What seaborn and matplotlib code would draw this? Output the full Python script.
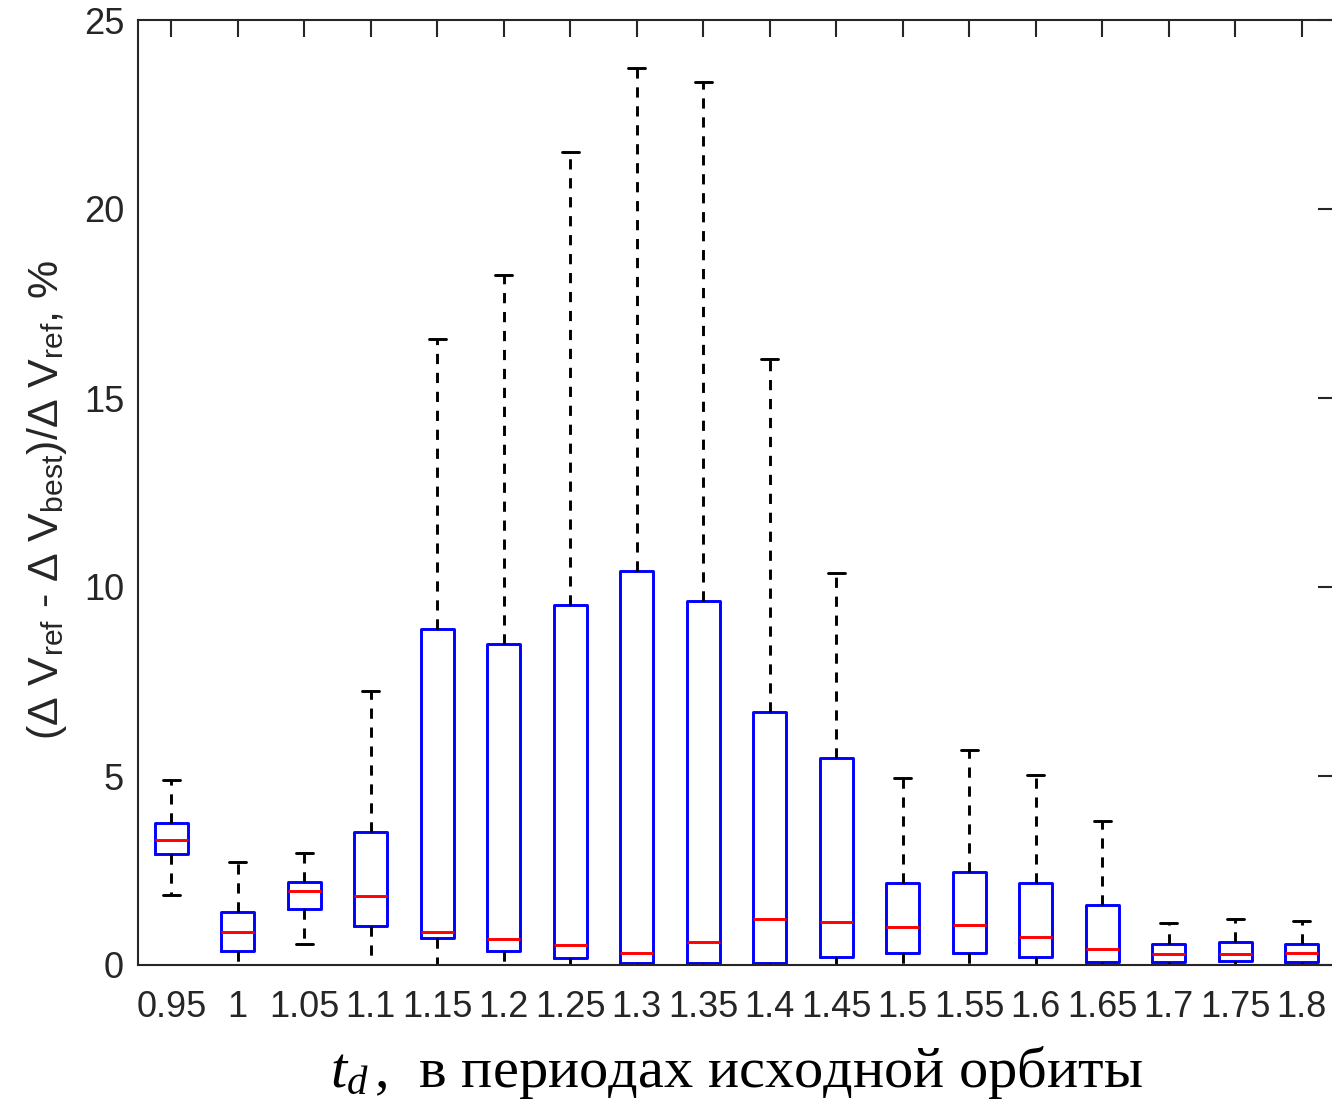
import matplotlib
matplotlib.use("Agg")
import matplotlib.pyplot as plt
import seaborn as sns
import pandas as pd

# five-number summaries (whisker low, Q1, median, Q3, whisker high)
td_labels = ["0.95", "1", "1.05", "1.1", "1.15", "1.2", "1.25", "1.3", "1.35",
             "1.4", "1.45", "1.5", "1.55", "1.6", "1.65", "1.7", "1.75", "1.8"]
whisker_low = [1.85, 0.0, 0.56, 0.0, 0.0, 0.0, 0.0, 0.0, 0.0,
               0.0, 0.0, 0.0, 0.0, 0.0, 0.0, 0.0, 0.0, 0.0]
q1 = [2.94, 0.37, 1.48, 1.03, 0.71, 0.37, 0.18, 0.05, 0.05,
      0.05, 0.21, 0.32, 0.32, 0.21, 0.08, 0.08, 0.10, 0.08]
median = [3.31, 0.87, 1.96, 1.83, 0.87, 0.69, 0.53, 0.32, 0.61,
          1.22, 1.14, 1.00, 1.06, 0.74, 0.42, 0.29, 0.29, 0.32]
q3 = [3.76, 1.40, 2.20, 3.52, 8.89, 8.49, 9.52, 10.42, 9.63,
      6.69, 5.48, 2.17, 2.46, 2.17, 1.59, 0.56, 0.61, 0.56]
whisker_high = [4.89, 2.72, 2.96, 7.25, 16.56, 18.25, 21.50, 23.73, 23.36,
                16.03, 10.37, 4.95, 5.69, 5.03, 3.81, 1.11, 1.22, 1.16]

rows = []
for i, lab in enumerate(td_labels):
    for v in (whisker_low[i], q1[i], median[i], q3[i], whisker_high[i]):
        rows.append({"td": lab, "value": v})
df = pd.DataFrame(rows)

sns.set_style("white")
plt.rcParams["font.family"] = ["Liberation Sans", "DejaVu Sans"]
plt.rcParams["mathtext.fontset"] = "custom"
plt.rcParams["mathtext.rm"] = "Liberation Sans"
plt.rcParams["mathtext.it"] = "Liberation Serif:italic"

axis_color = "#262626"

fig = plt.figure(figsize=(13.32, 11.04), dpi=100)
ax = fig.add_axes([138 / 1332, 1 - 965 / 1104, 1197 / 1332, (965 - 20) / 1104])

sns.boxplot(data=df, x="td", y="value", order=td_labels, whis=(0, 100),
            width=0.5, fill=False, showfliers=False, linewidth=2.1, ax=ax,
            boxprops={"color": "blue"},
            medianprops={"color": "red"},
            whiskerprops={"color": "black", "linestyle": (0, (3.5, 3))},
            capprops={"color": "black"})

ax.set_xlim(-0.5, len(td_labels) - 0.5)
ax.set_ylim(0, 25)
ax.set_yticks([0, 5, 10, 15, 20, 25])

for s in ax.spines.values():
    s.set_visible(True)
    s.set_color(axis_color)
    s.set_linewidth(1.5)

ax.tick_params(direction="in", length=12, width=1.5, top=True, right=True,
               labelsize=26, colors=axis_color)
ax.tick_params(axis="x", pad=18)
ax.tick_params(axis="y", pad=10)

ax.set_ylabel(r"($\Delta$ $\mathrm{V}_{\mathrm{ref}}$ - $\Delta$ $\mathrm{V}_{\mathrm{best}}$)/$\Delta$ $\mathrm{V}_{\mathrm{ref}}$, %",
              fontsize=31, color=axis_color)
ax.yaxis.set_label_coords(-0.058, 0.492)
ax.set_xlabel(r"$t_d\,$,  в периодах исходной орбиты", fontsize=42,
              family=["Liberation Serif", "DejaVu Serif"], color="black", labelpad=14)

fig.savefig("out.png", dpi=100)
